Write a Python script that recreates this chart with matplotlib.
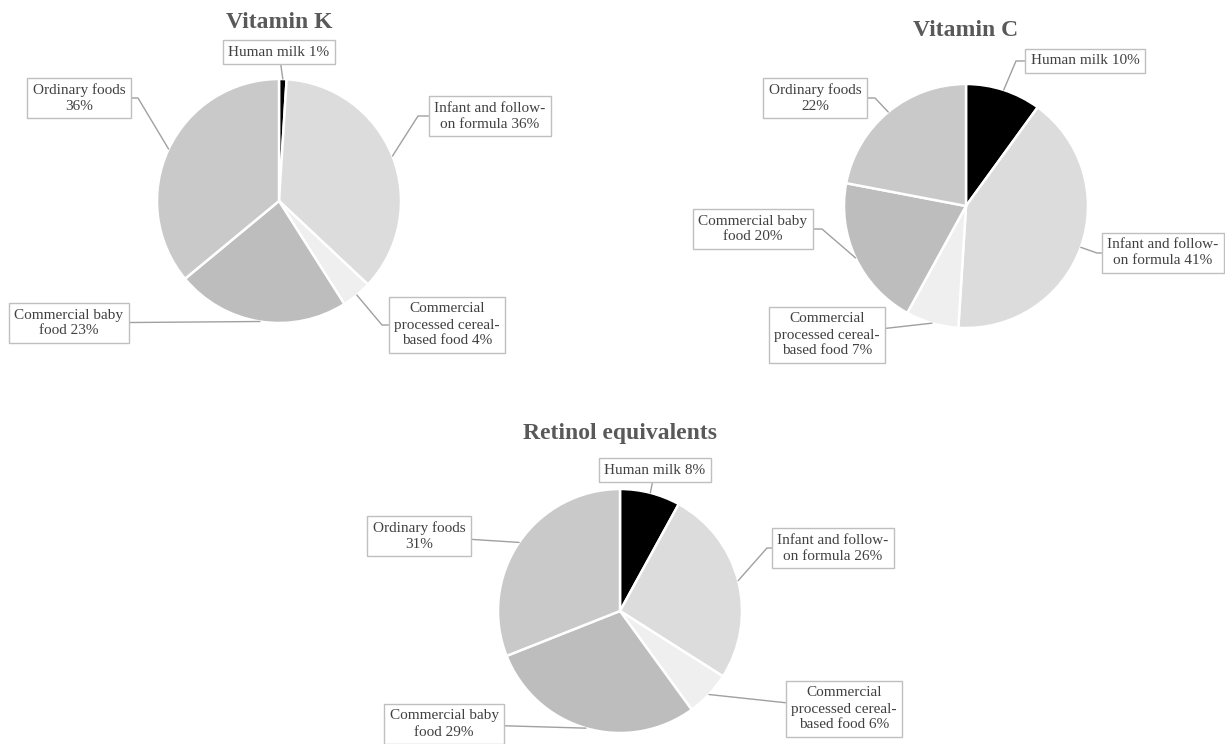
import math
import matplotlib
matplotlib.use("Agg")
import matplotlib.pyplot as plt

plt.rcParams["font.family"] = ["Liberation Serif", "DejaVu Serif"]

# figure size in pixels (dpi 100, one data unit = one pixel)
W, H = 1225, 744

# data
categories = ["Human milk ", "Infant and follow-\non formula ",
              "Commercial\nprocessed cereal-\nbased food ",
              "Commercial baby\nfood ", "Ordinary foods\n"]
vitamin_k = [1, 36, 4, 23, 36]
vitamin_c = [10, 41, 7, 20, 22]
retinol = [8, 26, 6, 29, 31]
titles = ["Vitamin K", "Vitamin C", "Retinol equivalents"]

# drawing setting
slice_colors = ["#000000", "#dcdcdc", "#efefef", "#bdbdbd", "#c9c9c9"]
text_color = "#404040"
title_color = "#595959"
box_edge = "#bfbfbf"
leader_color = "#a0a0a0"
radius = 122

# layout per chart: pie center, title y, label centers, elbow x (None = straight)
layouts = [
    dict(center=(279, 201), title_y=22,
         labels=[(279, 52), (490, 116), (447, 325), (69, 323), (79, 98)],
         elbows=[None, 418, 382, None, 138]),
    dict(center=(966, 206), title_y=30,
         labels=[(1085, 61), (1163, 253), (827, 335), (753, 229), (815, 98)],
         elbows=[1016, 1097, None, 822, 875]),
    dict(center=(620, 611), title_y=433,
         labels=[(655, 470), (833, 548), (844, 709), (444, 724), (419, 536)],
         elbows=[None, 767, None, None, None]),
]


def draw_pie(ax, values, title, layout):
    cx, cy = layout["center"]
    wedges, _ = ax.pie(values, colors=slice_colors, startangle=90,
                       counterclock=False, radius=radius,
                       center=(cx, H - cy), frame=True,
                       wedgeprops=dict(edgecolor="white", linewidth=1.8))
    ax.text(cx, H - layout["title_y"], title, ha="center", va="center",
            fontsize=17, fontweight="bold", color=title_color)

    for w, name, v, (tx, ty), kx in zip(wedges, categories, values,
                                        layout["labels"], layout["elbows"]):
        mid = math.radians((w.theta1 + w.theta2) / 2)
        bx = w.center[0] + w.r * math.cos(mid)
        by = w.center[1] + w.r * math.sin(mid)
        if kx is None:
            conn = "arc3,rad=0"
        else:
            ang_b = math.degrees(math.atan2((H - ty) - by, kx - bx))
            conn = "angle,angleA=0,angleB=%.2f,rad=0" % ang_b
        ax.annotate(f"{name}{v}%", xy=(bx, by), xytext=(tx, H - ty),
                    xycoords="data", textcoords="data",
                    ha="center", va="center", multialignment="center",
                    fontsize=11, color=text_color, linespacing=1.3,
                    bbox=dict(boxstyle="square,pad=0.35", fc="white",
                              ec=box_edge, lw=1),
                    arrowprops=dict(arrowstyle="-", color=leader_color,
                                    lw=1, shrinkA=0, shrinkB=0,
                                    connectionstyle=conn))


fig = plt.figure(figsize=(W / 100, H / 100), dpi=100)
ax = fig.add_axes([0, 0, 1, 1])

for values, title, layout in zip([vitamin_k, vitamin_c, retinol], titles, layouts):
    draw_pie(ax, values, title, layout)

ax.set_xlim(0, W)
ax.set_ylim(0, H)
ax.set_aspect("equal")
ax.axis("off")

fig.savefig("out.png", dpi=100, facecolor="white")
